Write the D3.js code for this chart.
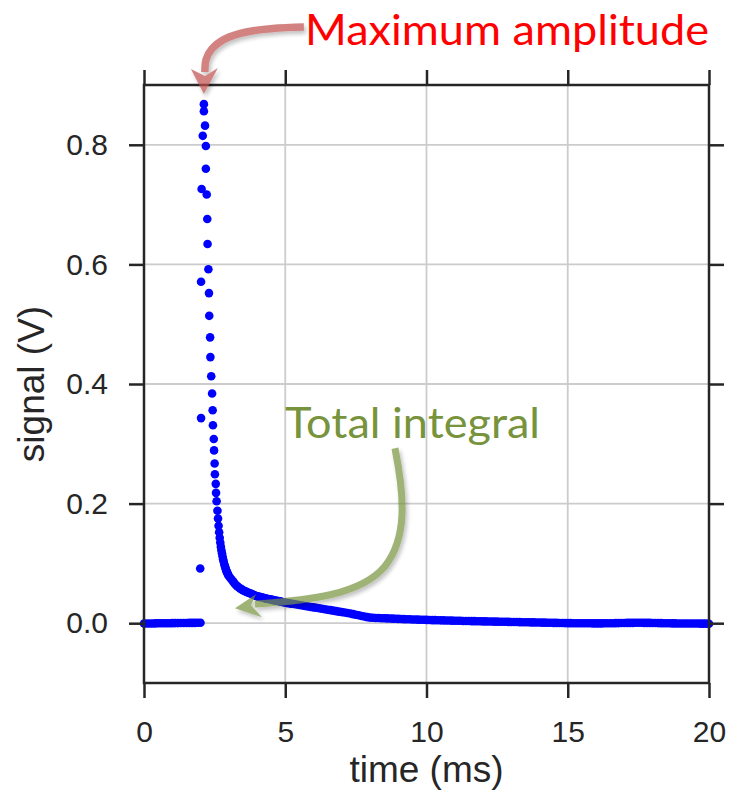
<!DOCTYPE html>
<html>
<head>
<meta charset="utf-8">
<script src="https://cdn.jsdelivr.net/npm/d3@7"></script>
<style>
  body { margin: 0; background: #fff; }
  svg { display: block; }
</style>
</head>
<body>
<svg id="chart" width="729" height="796"></svg>
<script>
// ---- axis ticks ----
const xTicks = [0, 5, 10, 15, 20];
const yTicks = [0.0, 0.2, 0.4, 0.6, 0.8];

// ---- pre-trigger baseline, sampled every 0.1 ms from 0 ms (V) ----
const baselineStart = 0, baselineStep = 0.1;
const baselineSignal = [
  -0.0006, -0.0005, -0.0004, -0.0004, -0.0003, -0.0002, -0.0002, -0.0001, 0.0000, 0.0000,
   0.0001,  0.0002,  0.0002,  0.0003,  0.0004,  0.0004,  0.0005,  0.0006, 0.0006, 0.0007,
   0.0008
];

// ---- stray samples around the trigger ----
const strayTime   = [1.99, 2.02, 2.02, 2.04, 2.08];
const straySignal = [0.0915, 0.343, 0.571, 0.726, 0.815];

// ---- pulse peak and fast fall (individual samples) ----
const peakTime = [2.12, 2.12, 2.16, 2.19, 2.19, 2.22, 2.24, 2.25, 2.28, 2.30, 2.31, 2.34,
                  2.35, 2.38, 2.41, 2.43, 2.44, 2.47, 2.48, 2.50, 2.51, 2.54, 2.55, 2.57];
const peakSignal = [0.868, 0.856, 0.832, 0.798, 0.760, 0.717, 0.676, 0.634, 0.592, 0.552, 0.514, 0.478,
                    0.445, 0.413, 0.384, 0.356, 0.331, 0.308, 0.289, 0.267, 0.249, 0.233, 0.218, 0.204];

// ---- knee of the decay, every 0.02 ms from 2.60 ms ----
const kneeStart = 2.60, kneeStep = 0.02;
const kneeSignal = [
  0.188, 0.175, 0.163, 0.152, 0.143, 0.135, 0.128, 0.122, 0.117, 0.112,
  0.107, 0.103, 0.099, 0.096, 0.093, 0.090, 0.087, 0.085, 0.083, 0.081
];

// ---- slow decay, every 0.05 ms from 3.00 ms ----
const slowStart = 3.00, slowStep = 0.05;
const slowSignal = [
  0.079, 0.076, 0.073, 0.070, 0.067, 0.064, 0.062, 0.060, 0.058, 0.057,
  0.055, 0.054, 0.053, 0.052, 0.051, 0.050, 0.049, 0.048, 0.047, 0.046,
  0.045, 0.0445, 0.044, 0.0435, 0.043, 0.042, 0.0415, 0.041, 0.0405, 0.040,
  0.0395, 0.039, 0.0385, 0.038, 0.0375, 0.037, 0.0365, 0.036, 0.0355, 0.035
];

// ---- long tail, every 0.1 ms from 5.0 ms to 20.0 ms ----
const tailStart = 5.0, tailStep = 0.1;
const tailSignal = [
  0.0345, 0.0336, 0.0328, 0.0320, 0.0312, 0.0304, 0.0296, 0.0288, 0.0280, 0.0272,
  0.0265, 0.0258, 0.0250, 0.0242, 0.0234, 0.0226, 0.0218, 0.0210, 0.0202, 0.0194,
  0.0186, 0.0178, 0.0170, 0.0161, 0.0152, 0.0142, 0.0132, 0.0121, 0.0111, 0.0102,
  0.0094, 0.0091, 0.0088, 0.0086, 0.0084, 0.0082, 0.0080, 0.0078, 0.0076, 0.0074,
  0.0072, 0.0070, 0.0068, 0.0067, 0.0065, 0.0063, 0.0062, 0.0060, 0.0058, 0.0057,
  0.0055, 0.0054, 0.0052, 0.0051, 0.0050, 0.0048, 0.0047, 0.0046, 0.0044, 0.0043,
  0.0042, 0.0041, 0.0040, 0.0038, 0.0037, 0.0036, 0.0035, 0.0034, 0.0033, 0.0032,
  0.0031, 0.0030, 0.0029, 0.0028, 0.0027, 0.0026, 0.0025, 0.0024, 0.0023, 0.0022,
  0.0021, 0.0020, 0.0019, 0.0018, 0.0017, 0.0016, 0.0015, 0.0014, 0.0013, 0.0012,
  0.0011, 0.0010, 0.0009, 0.0008, 0.0007, 0.0006, 0.0005, 0.0004, 0.0003, 0.0002,
  0.0001, 0.0001, 0.0000, 0.0000, -0.0001, -0.0001, -0.0002, -0.0002, -0.0002, -0.0003,
  -0.0003, -0.0003, -0.0003, -0.0002, -0.0002, -0.0001, 0.0000, 0.0001, 0.0002, 0.0003,
  0.0004, 0.0005, 0.0006, 0.0006, 0.0007, 0.0007, 0.0007, 0.0006, 0.0006, 0.0005,
  0.0004, 0.0003, 0.0002, 0.0001, 0.0000, -0.0001, -0.0002, -0.0003, -0.0003, -0.0004,
  -0.0004, -0.0005, -0.0005, -0.0005, -0.0006, -0.0006, -0.0006, -0.0007, -0.0007, -0.0007,
  -0.0008
];

// ---- annotation anchors (data units) ----
const peakLabel = "Maximum amplitude";
const peakArrowTip = [2.12, 0.885];
const integralLabel = "Total integral";
const integralArrowTip = [3.22, 0.025];

// ---- assemble the sample list ----
function sampled(start, step, values) {
  return values.map((v, i) => ({ t: +(start + i * step).toFixed(3), v }));
}
const samples = [
  ...sampled(baselineStart, baselineStep, baselineSignal),
  ...strayTime.map((t, i) => ({ t, v: straySignal[i] })),
  ...peakTime.map((t, i) => ({ t, v: peakSignal[i] })),
  ...sampled(kneeStart, kneeStep, kneeSignal),
  ...sampled(slowStart, slowStep, slowSignal),
  ...sampled(tailStart, tailStep, tailSignal)
];

// ---- layout ----
const svg = d3.select("#chart");
const plotL = 144, plotR = 709, plotT = 85, plotB = 683;
const x = d3.scaleLinear().domain([0, 20]).range([plotL, plotR]);
const y = d3.scaleLinear().domain([-0.1, 0.9]).range([plotB, plotT]);
const ink = "#262626";
const tickFont = "'Liberation Sans', Arial, Helvetica, sans-serif";

// grid
const grid = svg.append("g").attr("stroke", "#cccccc").attr("stroke-width", 1.8);
grid.selectAll("line.gx").data(xTicks).join("line")
  .attr("x1", d => x(d)).attr("x2", d => x(d)).attr("y1", plotT).attr("y2", plotB);
grid.selectAll("line.gy").data(yTicks).join("line")
  .attr("y1", d => y(d)).attr("y2", d => y(d)).attr("x1", plotL).attr("x2", plotR);

// data points
svg.append("g").attr("fill", "#0000ff")
  .selectAll("circle").data(samples).join("circle")
  .attr("cx", d => x(d.t)).attr("cy", d => y(d.v)).attr("r", 4.3);

// axes on all four sides, ticks pointing outward
function styleAxis(g, withLabels) {
  g.select(".domain").remove();
  g.selectAll(".tick line").attr("stroke", ink).attr("stroke-width", 2.5);
  if (withLabels) {
    g.selectAll(".tick text").attr("fill", ink)
      .style("font-family", tickFont).style("font-size", "30px");
  } else {
    g.selectAll(".tick text").remove();
  }
}
svg.append("g").attr("transform", `translate(${plotL},0)`)
  .call(d3.axisLeft(y).tickValues(yTicks).tickSize(15).tickPadding(21).tickFormat(d3.format(".1f")))
  .call(g => styleAxis(g, true));
svg.append("g").attr("transform", `translate(${plotR},0)`)
  .call(d3.axisRight(y).tickValues(yTicks).tickSize(15))
  .call(g => styleAxis(g, false));
svg.append("g").attr("transform", `translate(0,${plotB})`)
  .call(d3.axisBottom(x).tickValues(xTicks).tickSize(15).tickPadding(23).tickFormat(d3.format("d")))
  .call(g => styleAxis(g, true));
svg.append("g").attr("transform", `translate(0,${plotT})`)
  .call(d3.axisTop(x).tickValues(xTicks).tickSize(15))
  .call(g => styleAxis(g, false));

// frame
svg.append("rect").attr("x", plotL).attr("y", plotT)
  .attr("width", plotR - plotL).attr("height", plotB - plotT)
  .attr("fill", "none").attr("stroke", ink).attr("stroke-width", 2.5);

// axis titles
svg.append("text").attr("x", (plotL + plotR) / 2).attr("y", 782)
  .attr("text-anchor", "middle").attr("fill", ink)
  .style("font-family", tickFont).style("font-size", "37px")
  .text("time (ms)");
svg.append("text").attr("transform", `translate(44,${(plotT + plotB) / 2}) rotate(-90)`)
  .attr("text-anchor", "middle").attr("fill", ink)
  .style("font-family", tickFont).style("font-size", "37px")
  .text("signal (V)");

// ---- annotations ----
const defs = svg.append("defs");
defs.append("filter").attr("id", "soft-shadow")
  .attr("x", "-20%").attr("y", "-20%").attr("width", "140%").attr("height", "140%")
  .append("feDropShadow").attr("dx", 2).attr("dy", 3).attr("stdDeviation", 2)
  .attr("flood-color", "#000").attr("flood-opacity", 0.35);

const calloutFont = "Lato, 'Open Sans', sans-serif";

// maximum-amplitude arrow
{
  const tx = x(peakArrowTip[0]), ty = y(peakArrowTip[1]);
  const g = svg.append("g").attr("opacity", 0.7).attr("filter", "url(#soft-shadow)");
  g.append("path")
    .attr("d", `M${tx + 100},${ty - 67} C${tx + 55},${ty - 66} ${tx + 22},${ty - 62} ${tx + 8},${ty - 45}`
             + ` C${tx + 2},${ty - 38} ${tx + 1},${ty - 32} ${tx + 1},${ty - 22}`)
    .attr("fill", "none").attr("stroke", "#c0504d").attr("stroke-width", 7.5);
  g.append("path")
    .attr("d", `M${tx},${ty} L${tx - 13},${ty - 25} L${tx + 1},${ty - 18} L${tx + 14},${ty - 26} Z`)
    .attr("fill", "#c0504d");
}
svg.append("text").attr("x", 305).attr("y", 45)
  .attr("fill", "#ff0000").attr("textLength", 404).attr("lengthAdjust", "spacingAndGlyphs")
  .style("font-family", calloutFont).style("font-size", "42px")
  .text(peakLabel);

// total-integral arrow
{
  const tx = x(integralArrowTip[0]), ty = y(integralArrowTip[1]);
  const g = svg.append("g").attr("opacity", 0.7).attr("filter", "url(#soft-shadow)");
  g.append("path")
    .attr("d", `M${tx + 160},${ty - 160} C${tx + 170},${ty - 110} ${tx + 172},${ty - 70} ${tx + 150},${ty - 42}`
             + ` C${tx + 125},${ty - 12} ${tx + 70},${ty - 8} ${tx + 20},${ty - 4}`)
    .attr("fill", "none").attr("stroke", "#77933c").attr("stroke-width", 7);
  g.append("path")
    .attr("d", `M${tx},${ty} L${tx + 21},${ty - 14} L${tx + 16},${ty - 3} L${tx + 27},${ty + 9} Z`)
    .attr("fill", "#77933c");
}
svg.append("text").attr("x", 285).attr("y", 438)
  .attr("fill", "#77933c").attr("textLength", 255).attr("lengthAdjust", "spacingAndGlyphs")
  .style("font-family", calloutFont).style("font-size", "42px")
  .text(integralLabel);
</script>
</body>
</html>
